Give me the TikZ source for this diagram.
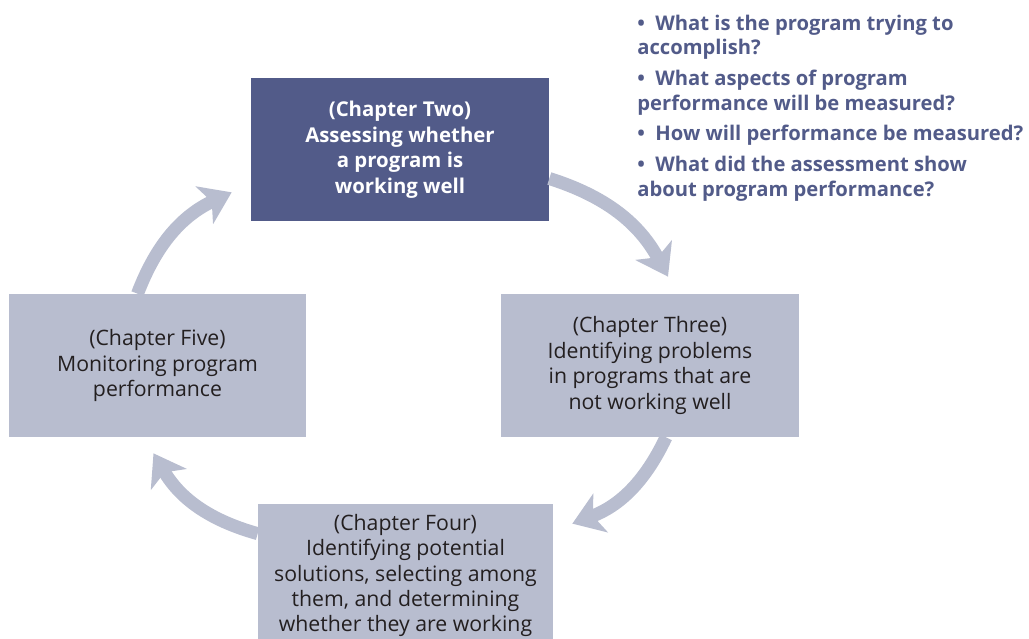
\documentclass[tikz,border=0pt]{standalone}
\usepackage{fontspec}
\setmainfont{Open Sans}
\usepackage{tikz}
\usetikzlibrary{arrows.meta,calc}
\definecolor{navy}{HTML}{525B89}
\definecolor{haze}{HTML}{B8BDCF}
\definecolor{ink}{HTML}{231F20}
\tikzstyle{chap}=[draw=none, rectangle, fill=navy, text=white, font=\bfseries\fontsize{11.6}{14.5}\selectfont, align=center, inner sep=0mm, minimum width=5.96cm, minimum height=2.86cm]
\tikzstyle{phase}=[draw=none, rectangle, fill=haze, text=ink, font=\fontsize{12.1}{14.5}\selectfont, align=center, inner sep=0mm, minimum height=2.86cm]
\tikzstyle{cyc}=[draw=haze, line width=.26cm, -{Stealth[length=6mm, width=8.2mm, inset=1.6mm]}]
\tikzstyle{qs}=[draw=none, text=navy, font=\bfseries\fontsize{11.5}{14}\selectfont, align=left, inner sep=0mm]

\begin{document}
\begin{tikzpicture}[x=.02cm, y=.02cm]
\useasboundingbox (0,0) rectangle (1029,-639);
\node[chap] (two) at (400,-149.5) {(Chapter Two)\\Assessing whether\\a program is\\working well};
\node[phase, minimum width=5.96cm] (three) at (650,-365.5) {(Chapter Three)\\Identifying problems\\in programs that are\\not working well};
\node[phase, minimum width=5.94cm] (five) at (157.5,-365.5) {(Chapter Five)\\Monitoring program\\performance};
\node[phase, minimum width=5.9cm] (four) at (405.5,-575.5) {(Chapter Four)\\Identifying potential\\solutions, selecting among\\them, and determining\\whether they are working};
\node[qs, anchor=north west] (qlist) at (637,-14.5) {\textbullet\ \ What is the program trying to\\accomplish?\\[3.5pt]
  \textbullet\ \ What aspects of program\\performance will be measured?\\[3.5pt]
  \textbullet\ \ How will performance be measured?\\[3.5pt]
  \textbullet\ \ What did the assessment show\\about program performance?};
% the cycle
\draw[cyc] ($(two.east)+(0,-29)$) to[bend left=22] ($(three.north)+(18,17)$);
\draw[cyc] ($(three.south)+(16,0)$) to[bend left=22] ($(four.north east)+(19,-20)$);
\draw[cyc] ($(four.north west)+(0,-30)$) to[bend left=22] ($(five.south)+(-4,-16)$);
\draw[cyc] ($(five.north)+(-20,0)$) to[bend left=22] ($(two.south west)+(-19,29)$);
\end{tikzpicture}
\end{document}
